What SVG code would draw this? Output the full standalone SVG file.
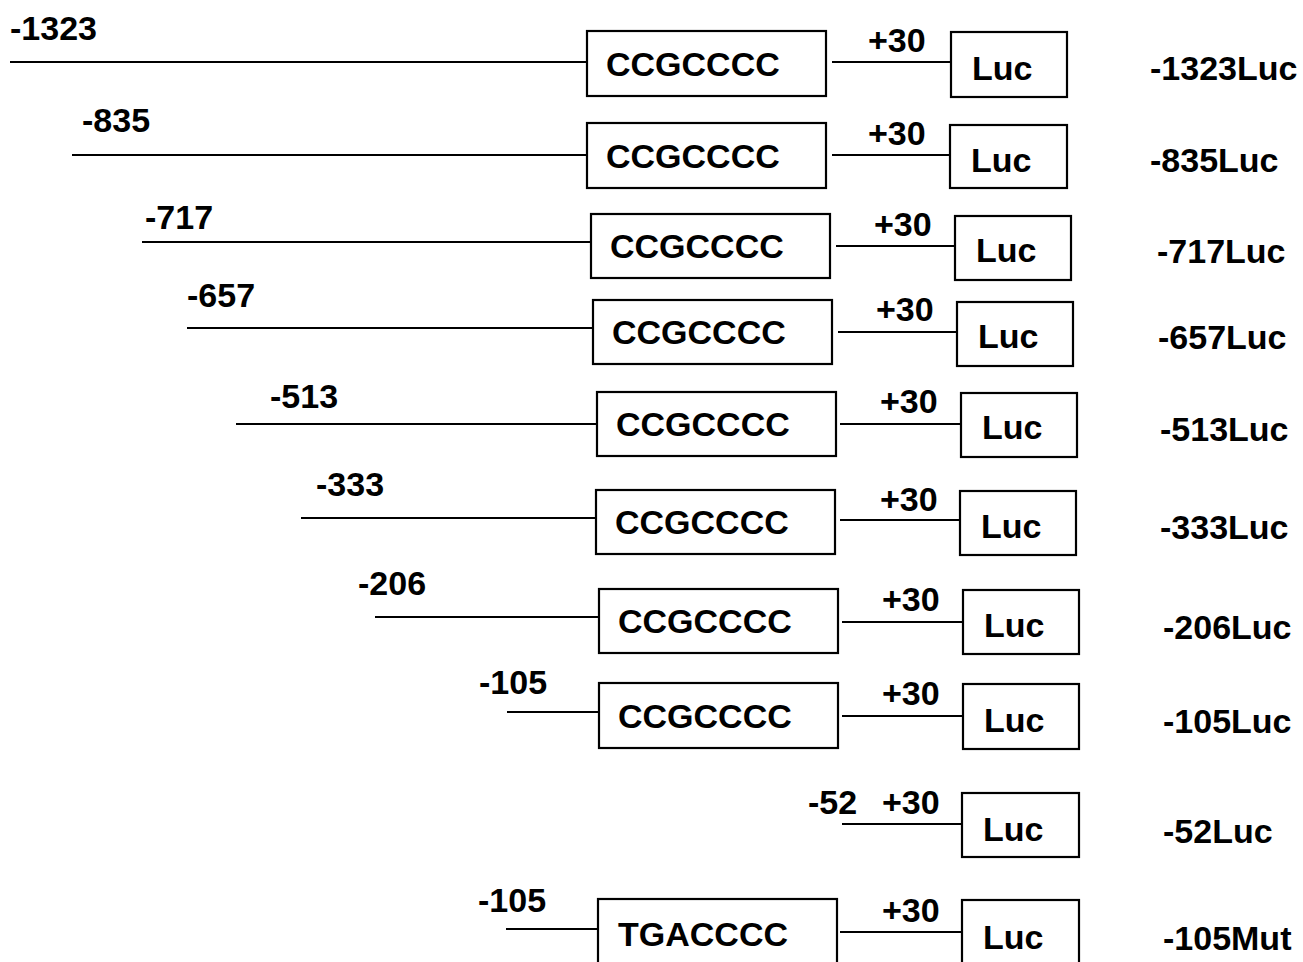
<svg xmlns="http://www.w3.org/2000/svg" width="1303" height="962" viewBox="0 0 1303 962">
<style>
text{font-family:"Liberation Sans",Arial,sans-serif;font-weight:bold;font-size:34px;fill:#000}
.box{fill:#fff;stroke:#000;stroke-width:2.2}
.ln{stroke:#000;stroke-width:2}
</style>
<rect width="1303" height="962" fill="#fff"/>
<g id="connectors">
<line class="ln" x1="10" y1="62" x2="587" y2="62"/>
<line class="ln" x1="832" y1="62" x2="951" y2="62"/>
<line class="ln" x1="72" y1="155" x2="587" y2="155"/>
<line class="ln" x1="832" y1="155" x2="950" y2="155"/>
<line class="ln" x1="142" y1="242" x2="591" y2="242"/>
<line class="ln" x1="836" y1="246" x2="955" y2="246"/>
<line class="ln" x1="187" y1="328" x2="593" y2="328"/>
<line class="ln" x1="838" y1="332" x2="957" y2="332"/>
<line class="ln" x1="236" y1="424" x2="597" y2="424"/>
<line class="ln" x1="840" y1="424" x2="961" y2="424"/>
<line class="ln" x1="301" y1="518" x2="596" y2="518"/>
<line class="ln" x1="840" y1="520" x2="960" y2="520"/>
<line class="ln" x1="375" y1="617" x2="599" y2="617"/>
<line class="ln" x1="842" y1="622" x2="963" y2="622"/>
<line class="ln" x1="507" y1="712" x2="599" y2="712"/>
<line class="ln" x1="842" y1="716" x2="963" y2="716"/>
<line class="ln" x1="842" y1="824" x2="962" y2="824"/>
<line class="ln" x1="506" y1="929" x2="598" y2="929"/>
<line class="ln" x1="840" y1="932" x2="962" y2="932"/>
</g>
<g id="row1">
<text x="10" y="40">-1323</text>
<rect class="box" x="587" y="31" width="239" height="65"/>
<text x="606" y="76">CCGCCCC</text>
<text x="868" y="52">+30</text>
<rect class="box" x="951" y="32" width="116" height="65"/>
<text x="972" y="80">Luc</text>
<text x="1150" y="80">-1323Luc</text>
</g>
<g id="row2">
<text x="82" y="132">-835</text>
<rect class="box" x="587" y="123" width="239" height="65"/>
<text x="606" y="168">CCGCCCC</text>
<text x="868" y="145">+30</text>
<rect class="box" x="950" y="125" width="117" height="63"/>
<text x="971" y="172">Luc</text>
<text x="1150" y="172">-835Luc</text>
</g>
<g id="row3">
<text x="145" y="229">-717</text>
<rect class="box" x="591" y="214" width="239" height="64"/>
<text x="610" y="258">CCGCCCC</text>
<text x="874" y="236">+30</text>
<rect class="box" x="955" y="216" width="116" height="64"/>
<text x="976" y="262">Luc</text>
<text x="1157" y="263">-717Luc</text>
</g>
<g id="row4">
<text x="187" y="307">-657</text>
<rect class="box" x="593" y="300" width="239" height="64"/>
<text x="612" y="344">CCGCCCC</text>
<text x="876" y="321">+30</text>
<rect class="box" x="957" y="302" width="116" height="64"/>
<text x="978" y="348">Luc</text>
<text x="1158" y="349">-657Luc</text>
</g>
<g id="row5">
<text x="270" y="408">-513</text>
<rect class="box" x="597" y="392" width="239" height="64"/>
<text x="616" y="436">CCGCCCC</text>
<text x="880" y="413">+30</text>
<rect class="box" x="961" y="393" width="116" height="64"/>
<text x="982" y="439">Luc</text>
<text x="1160" y="441">-513Luc</text>
</g>
<g id="row6">
<text x="316" y="496">-333</text>
<rect class="box" x="596" y="490" width="239" height="64"/>
<text x="615" y="534">CCGCCCC</text>
<text x="880" y="511">+30</text>
<rect class="box" x="960" y="491" width="116" height="64"/>
<text x="981" y="538">Luc</text>
<text x="1160" y="539">-333Luc</text>
</g>
<g id="row7">
<text x="358" y="595">-206</text>
<rect class="box" x="599" y="589" width="239" height="64"/>
<text x="618" y="633">CCGCCCC</text>
<text x="882" y="611">+30</text>
<rect class="box" x="963" y="590" width="116" height="64"/>
<text x="984" y="637">Luc</text>
<text x="1163" y="639">-206Luc</text>
</g>
<g id="row8">
<text x="479" y="694">-105</text>
<rect class="box" x="599" y="683" width="239" height="65"/>
<text x="618" y="728">CCGCCCC</text>
<text x="882" y="705">+30</text>
<rect class="box" x="963" y="684" width="116" height="65"/>
<text x="984" y="732">Luc</text>
<text x="1163" y="733">-105Luc</text>
</g>
<g id="row9">
<text x="808" y="814">-52</text>
<text x="882" y="814">+30</text>
<rect class="box" x="962" y="793" width="117" height="64"/>
<text x="983" y="841">Luc</text>
<text x="1163" y="843">-52Luc</text>
</g>
<g id="row10">
<text x="478" y="912">-105</text>
<rect class="box" x="598" y="899" width="239" height="70"/>
<text x="618" y="946">TGACCCC</text>
<text x="882" y="922">+30</text>
<rect class="box" x="962" y="900" width="117" height="70"/>
<text x="983" y="949">Luc</text>
<text x="1163" y="950">-105Mut</text>
</g>
</svg>
